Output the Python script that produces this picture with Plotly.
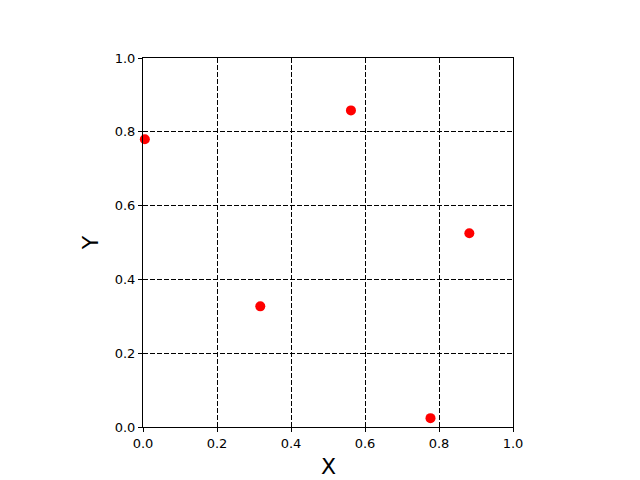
import plotly.graph_objects as go

x_vals = [0.005, 0.562, 0.882, 0.317, 0.777]
y_vals = [0.780, 0.858, 0.525, 0.327, 0.024]
tick_vals = [0.0, 0.2, 0.4, 0.6, 0.8, 1.0]
tick_text = ["0.0", "0.2", "0.4", "0.6", "0.8", "1.0"]

fig = go.Figure()
fig.add_trace(go.Scatter(
    x=x_vals, y=y_vals, mode="markers",
    marker=dict(color="red", size=10),
    cliponaxis=False, showlegend=False,
))

axis_common = dict(
    range=[0, 1], tickvals=tick_vals, ticktext=tick_text,
    showline=True, linecolor="black", linewidth=1, mirror=True,
    ticks="outside", ticklen=4, tickcolor="black", tickwidth=1,
    showgrid=True, gridcolor="black", gridwidth=1, griddash="5px,2px",
    zeroline=False, automargin=False,
    tickfont=dict(family="DejaVu Sans", size=13, color="black"),
)

# page body has an 8px default margin, so the figure is offset by 8px
fig.update_layout(
    width=624, height=472,
    margin=dict(l=135, r=119, t=50, b=53),
    paper_bgcolor="white", plot_bgcolor="white",
    xaxis=dict(**axis_common),
    yaxis=dict(**axis_common, title=dict(text="Y", font=dict(family="DejaVu Sans", size=22, color="black"), standoff=10)),
    annotations=[dict(
        text="X", xref="paper", yref="paper", x=0.5, y=-0.106,
        xanchor="center", yanchor="middle", showarrow=False,
        font=dict(family="DejaVu Sans", size=22, color="black"),
    )],
)

fig.write_html("out.html")
